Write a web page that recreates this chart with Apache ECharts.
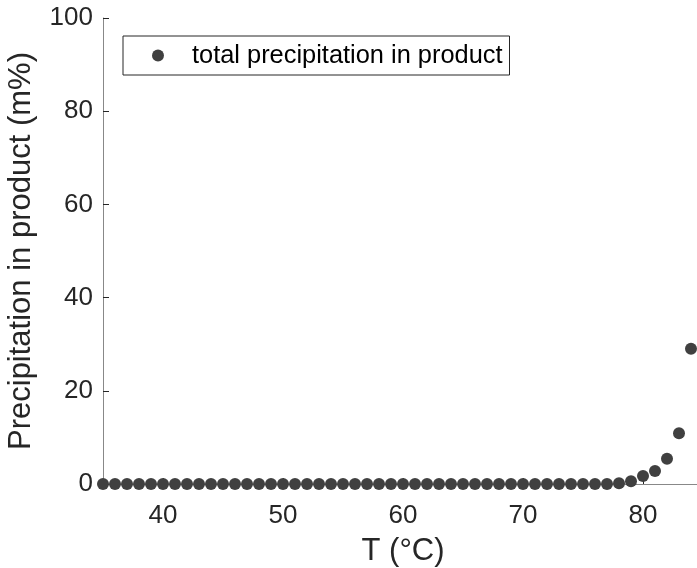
<!DOCTYPE html>
<html>
<head>
<meta charset="utf-8">
<script src="https://cdn.jsdelivr.net/npm/echarts@6/dist/echarts.min.js"></script>
<style>
html,body{margin:0;padding:0;background:#fff;}
#chart{width:697px;height:568px;}
</style>
</head>
<body>
<div id="chart"></div>
<script>
var temperatures = [35,36,37,38,39,40,41,42,43,44,45,46,47,48,49,50,51,52,53,54,55,56,57,58,59,60,61,62,63,64,65,66,67,68,69,70,71,72,73,74,75,76,77,78,79,80,81,82,83,84];
var precipitation = [0,0,0,0,0,0,0,0,0,0,0,0,0,0,0,0,0,0,0,0,0,0,0,0,0,0,0,0,0,0,0,0,0,0,0,0,0,0,0,0,0,0,0,0.15,0.6,1.7,2.8,5.4,10.9,29.0];
var xTicks = [40,50,60,70,80];
var yTicks = [0,20,40,60,80,100];
var seriesName = 'total precipitation in product';

var FONT = 'Liberation Sans, Arial, Helvetica, sans-serif';
var points = temperatures.map(function(t,i){return [t, precipitation[i]];});

var chart = echarts.init(document.getElementById('chart'), null, {renderer:'canvas'});
chart.setOption({
  animation:false,
  backgroundColor:'#ffffff',
  grid:{left:103, top:18, width:600, height:466, containLabel:false, outerBoundsMode:'none'},
  legend:{
    left:123, top:36,
    orient:'horizontal',
    data:[{name:seriesName, icon:'circle'}],
    itemWidth:58, itemHeight:12,
    padding:[7,7,7,29],
    borderColor:'#262626', borderWidth:1,
    itemStyle:{opacity:1},
    textStyle:{fontFamily:FONT, fontSize:25.4, color:'#000'}
  },
  xAxis:{
    type:'value', min:35, max:85,
    name:'T (°C)', nameLocation:'middle', nameGap:52,
    nameTextStyle:{fontFamily:FONT, fontSize:31, color:'#262626'},
    axisLine:{show:true, onZero:false, lineStyle:{color:'#888', width:1}},
    axisTick:{show:true, inside:true, length:6, customValues:xTicks, lineStyle:{color:'#262626'}},
    axisLabel:{customValues:xTicks, margin:19, fontFamily:FONT, fontSize:26, color:'#262626'},
    splitLine:{show:false}
  },
  yAxis:{
    type:'value', min:0, max:100, interval:20,
    name:'Precipitation in product (m%)', nameLocation:'middle', nameGap:66,
    nameTextStyle:{fontFamily:FONT, fontSize:31, color:'#262626'},
    axisLine:{show:true, onZero:false, lineStyle:{color:'#888', width:1}},
    axisTick:{show:true, inside:true, length:6, lineStyle:{color:'#262626'}},
    axisLabel:{margin:10, fontFamily:FONT, fontSize:26, color:'#262626'},
    splitLine:{show:false}
  },
  series:[{
    name:seriesName,
    type:'scatter',
    data:points,
    symbol:'circle',
    symbolSize:12,
    itemStyle:{color:'#404040', opacity:1},
    clip:false
  }]
});
</script>
</body>
</html>
